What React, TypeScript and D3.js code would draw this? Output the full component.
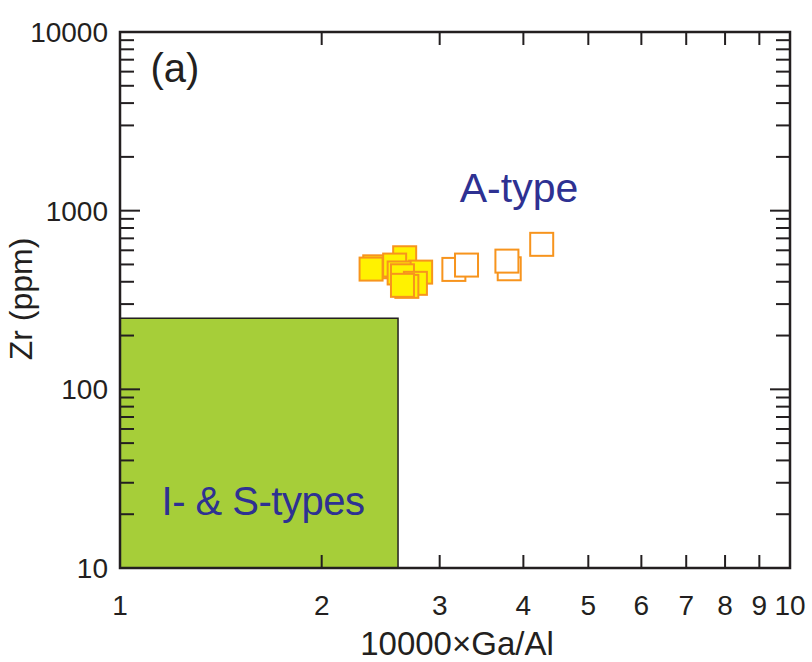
import React from 'react';
import * as d3 from 'd3';

// 10000*Ga/Al and Zr (ppm) — filled samples (drawn back to front)
const filledGaAl = [2.4, 2.37, 2.66, 2.57, 2.81, 2.61, 2.64, 2.76, 2.68, 2.64];
const filledZr = [485, 471, 545, 496, 453, 448, 432, 392, 377, 382];
// open samples
const openGaAl = [3.15, 3.29, 3.81, 3.78, 4.26];
const openZr = [469, 496, 473, 522, 648];

// I- & S-type field limits
const fieldGaAl = 2.6;
const fieldZr = 250;

const xTicks = [1, 2, 3, 4, 5, 6, 7, 8, 9, 10];
const yMajor = [10, 100, 1000, 10000];

const W = 812, H = 662;
const left = 120, right = 790, top = 32, bottom = 568;
const ink = '#231f20';
const navy = '#2e3192';
const font = '"Liberation Sans", Arial, sans-serif';

const App: React.FC = () => {
  const x = d3.scaleLog().domain([1, 10]).range([left, right]);
  const y = d3.scaleLog().domain([10, 10000]).range([bottom, top]);

  // minor ticks on y: 2..9 of each decade
  const yMinor: number[] = [];
  [10, 100, 1000].forEach(d => d3.range(2, 10).forEach(k => yMinor.push(d * k)));

  const sq = 23;

  return (
    <svg width={W} height={H} style={{ position: 'absolute', left: 0, top: 0 }} fontFamily={font}>
      <rect x={0} y={0} width={W} height={H} fill="#fff" />
      {/* I & S field */}
      <rect x={x(1)} y={y(fieldZr)} width={x(fieldGaAl) - x(1)} height={y(10) - y(fieldZr)}
        fill="#a6ce39" stroke={ink} strokeWidth={1.5} />

      {/* ticks: x bottom and top */}
      {xTicks.slice(1, -1).map(t => (
        <g key={'xt' + t} stroke={ink} strokeWidth={2}>
          <line x1={x(t)} x2={x(t)} y1={bottom} y2={bottom - 13} />
          <line x1={x(t)} x2={x(t)} y1={top} y2={top + 13} />
        </g>
      ))}
      {/* ticks: y left and right */}
      {yMinor.map(t => (
        <g key={'ym' + t} stroke={ink} strokeWidth={2}>
          <line x1={left} x2={left + 14} y1={y(t)} y2={y(t)} />
          <line x1={right} x2={right - 14} y1={y(t)} y2={y(t)} />
        </g>
      ))}
      {yMajor.slice(1, -1).map(t => (
        <g key={'yM' + t} stroke={ink} strokeWidth={2}>
          <line x1={left} x2={left + 20} y1={y(t)} y2={y(t)} />
          <line x1={right} x2={right - 20} y1={y(t)} y2={y(t)} />
        </g>
      ))}

      {/* frame */}
      <rect x={left} y={top} width={right - left} height={bottom - top} fill="none" stroke={ink} strokeWidth={2.5} />

      {/* tick labels */}
      {xTicks.map(t => (
        <text key={'xl' + t} x={x(t)} y={615} fontSize={28} textAnchor="middle" fill={ink}>{t}</text>
      ))}
      {yMajor.map(t => (
        <text key={'yl' + t} x={108} y={y(t)} dy="0.36em" fontSize={28} textAnchor="end" fill={ink}>{t}</text>
      ))}

      {/* axis titles */}
      <text x={457} y={655} fontSize={33} textAnchor="middle" fill={ink}>10000×Ga/Al</text>
      <text transform={`translate(32,299) rotate(-90)`} fontSize={32} textAnchor="middle" fill={ink}>Zr (ppm)</text>

      {/* field labels */}
      <text x={175} y={82} fontSize={40} textAnchor="middle" fill={ink}>(a)</text>
      <text x={519} y={202} fontSize={41} textAnchor="middle" fill={navy}>A-type</text>
      <text x={263} y={515} fontSize={40} textAnchor="middle" fill={navy} letterSpacing={-0.5}>I- &amp; S-types</text>

      {/* samples */}
      {openGaAl.map((v, i) => (
        <rect key={'o' + i} x={x(v) - sq / 2} y={y(openZr[i]) - sq / 2} width={sq} height={sq}
          fill="#fff" stroke="#f7941d" strokeWidth={2} />
      ))}
      {filledGaAl.map((v, i) => (
        <rect key={'f' + i} x={x(v) - sq / 2} y={y(filledZr[i]) - sq / 2} width={sq} height={sq}
          fill="#fff200" stroke="#f7941d" strokeWidth={2} />
      ))}
    </svg>
  );
};

export default App;
